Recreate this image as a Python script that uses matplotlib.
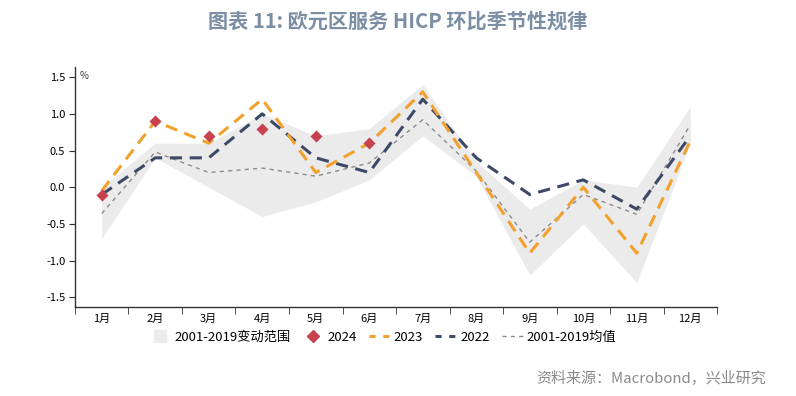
import matplotlib
matplotlib.use("Agg")
import matplotlib.pyplot as plt
from matplotlib.lines import Line2D
import numpy as np

plt.rcParams["font.family"] = ["Noto Sans CJK SC", "DejaVu Sans"]

# data (% m/m, services HICP)
months = ["1月", "2月", "3月", "4月", "5月", "6月", "7月", "8月", "9月", "10月", "11月", "12月"]
band_low = [-0.7, 0.4, 0.0, -0.4, -0.2, 0.1, 0.7, 0.15, -1.2, -0.5, -1.3, 0.6]
band_high = [0.0, 0.6, 0.6, 1.0, 0.7, 0.8, 1.4, 0.35, -0.3, 0.1, 0.0, 1.1]
avg_01_19 = [-0.36, 0.48, 0.2, 0.26, 0.15, 0.33, 0.92, 0.22, -0.75, -0.1, -0.37, 0.85]
y2024 = [-0.1, 0.9, 0.7, 0.8, 0.7, 0.6]
y2023 = [-0.05, 0.9, 0.6, 1.2, 0.2, 0.6, 1.3, 0.2, -0.9, 0.0, -0.9, 0.63]
y2022 = [-0.1, 0.4, 0.4, 1.0, 0.4, 0.2, 1.2, 0.4, -0.1, 0.1, -0.3, 0.7]

C = {
    "band": "#EBEBEB",
    "avg": "#8C8C8C",
    "y24": "#C8414F",
    "y23": "#F2A02E",
    "y22": "#3C4A67",
    "title": "#7B8EA4",
    "axis": "#333333",
    "src": "#8A8A8A",
}

x = np.arange(1, 13)

fig = plt.figure(figsize=(7.96, 3.96), dpi=100)
ax = fig.add_axes([0.0942, 0.2255, 0.8066, 0.6055])

ax.fill_between(x, band_low, band_high, color=C["band"], lw=0, zorder=1)
ax.plot(x, avg_01_19, color=C["avg"], lw=1.0, ls=(0, (3, 3)), zorder=2)
ax.plot(x, y2022, color=C["y22"], lw=2.2, ls=(0, (4, 2.5)), zorder=3)
ax.plot(x, y2023, color=C["y23"], lw=2.2, ls=(0, (4, 2.5)), zorder=4)
ax.scatter(x[:len(y2024)], y2024, marker="D", s=38, color=C["y24"], zorder=5, lw=0)

ax.set_xlim(0.5, 12.5)
ax.set_ylim(-1.63, 1.64)

for s in ["top", "right"]:
    ax.spines[s].set_visible(False)
for s in ["left", "bottom"]:
    ax.spines[s].set_color(C["axis"])
    ax.spines[s].set_linewidth(1.0)

ax.set_yticks([-1.5, -1.0, -0.5, 0.0, 0.5, 1.0, 1.5])
ax.set_yticklabels([f"{v:.1f}" for v in [-1.5, -1.0, -0.5, 0.0, 0.5, 1.0, 1.5]])
ax.tick_params(axis="y", direction="out", length=4, color=C["axis"], labelsize=8, pad=3)

ax.set_xticks(x)
ax.set_xticklabels(months)
ax.set_xticks(np.arange(0.5, 13.0, 1.0), minor=True)
ax.tick_params(axis="x", which="major", length=0, labelsize=8, pad=5)
ax.tick_params(axis="x", which="minor", direction="out", length=5, color=C["axis"])

ax.text(0.008, 0.985, "%", transform=ax.transAxes, fontsize=7, va="top", ha="left",
        color=C["axis"])

handles = [
    Line2D([], [], marker="s", ls="none", color=C["band"], markersize=8,
           label="2001-2019变动范围"),
    Line2D([], [], marker="D", ls="none", color=C["y24"], markersize=6, label="2024"),
    Line2D([], [], color=C["y23"], lw=2.2, ls=(0, (2, 2.5)), label="2023"),
    Line2D([], [], color=C["y22"], lw=2.2, ls=(0, (2, 2.5)), label="2022"),
    Line2D([], [], color=C["avg"], lw=1.0, ls=(0, (3, 3)), label="2001-2019均值"),
]
fig.legend(handles=handles, loc="center", bbox_to_anchor=(0.481, 0.148), ncol=5,
           frameon=False, fontsize=9.5, handlelength=1.6, handletextpad=0.3,
           columnspacing=0.9)

fig.text(0.5, 0.948, "图表 11: 欧元区服务 HICP 环比季节性规律", ha="center", va="center",
         fontsize=14.5, fontweight="bold", color=C["title"])
fig.text(0.962, 0.045, "资料来源：Macrobond，兴业研究", ha="right", va="center",
         fontsize=10.8, color=C["src"])

fig.savefig("out.png", dpi=100)
